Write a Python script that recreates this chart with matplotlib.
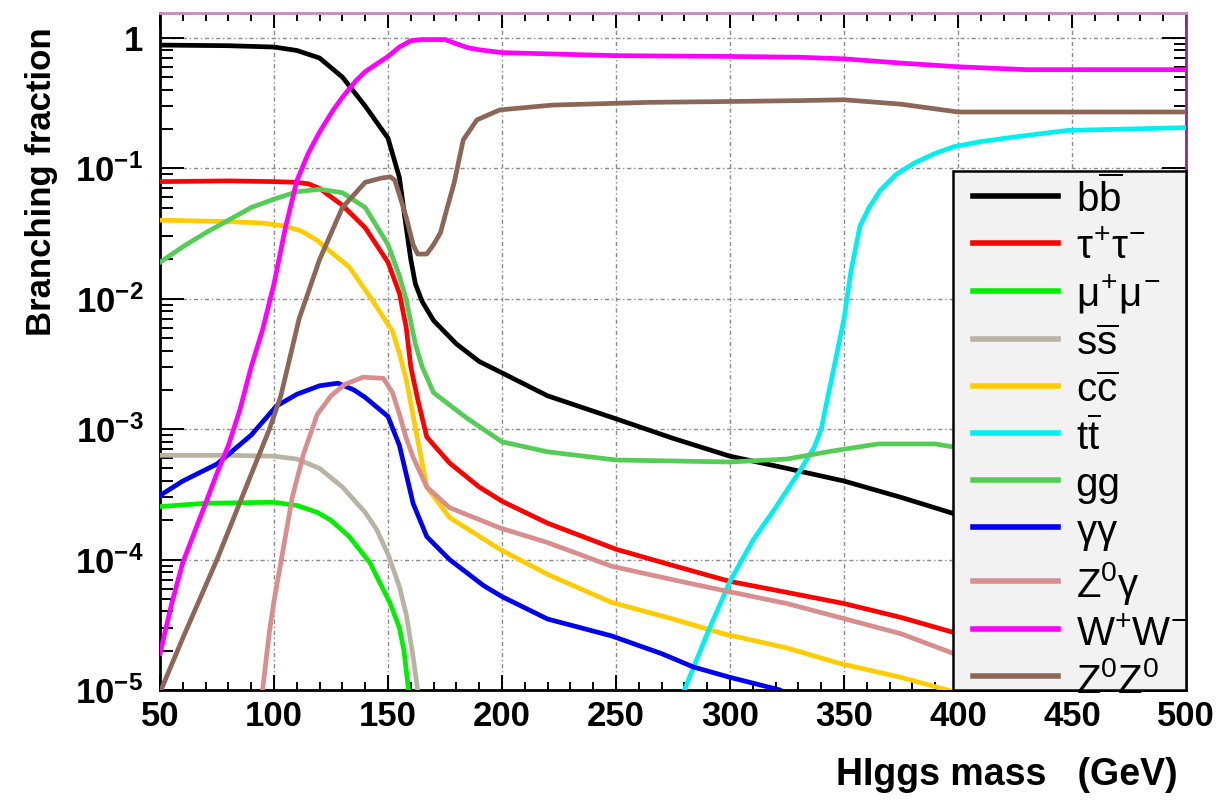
import matplotlib
matplotlib.use("Agg")
import matplotlib.pyplot as plt
from matplotlib.ticker import MultipleLocator, LogLocator, NullFormatter, FixedLocator, FixedFormatter
from matplotlib.patches import Rectangle

plt.rcParams['font.family'] = ['Liberation Sans', 'DejaVu Sans']
plt.rcParams['mathtext.fontset'] = 'custom'
plt.rcParams['mathtext.rm'] = 'Liberation Sans'
plt.rcParams['mathtext.it'] = 'Liberation Sans'
plt.rcParams['mathtext.bf'] = 'Liberation Sans:bold'

# ---- data ----
m_bb = [50, 80, 100, 110, 120, 130, 140, 150, 155, 158, 160, 162, 165, 170, 180, 190, 200, 220, 250, 275, 300, 325, 350, 375, 400]
v_bb = [0.88, 0.87, 0.85, 0.80, 0.70, 0.50, 0.30, 0.17, 0.085, 0.035, 0.02, 0.013, 0.0095, 0.0068, 0.0045, 0.0033, 0.0027, 0.0018, 0.0012, 0.00085, 0.00062, 0.0005, 0.0004, 0.0003, 0.00022]

m_tau = [50, 80, 100, 110, 115, 120, 130, 140, 150, 155, 158, 160, 163, 167, 177, 190, 200, 220, 250, 275, 300, 325, 350, 375, 400]
v_tau = [0.079, 0.08, 0.079, 0.078, 0.076, 0.07, 0.052, 0.035, 0.019, 0.011, 0.006, 0.003, 0.0017, 0.00087, 0.00055, 0.00036, 0.00028, 0.00019, 0.00012, 9e-5, 6.8e-5, 5.6e-5, 4.6e-5, 3.6e-5, 2.7e-5]

m_mu = [50, 70, 100, 110, 119, 125, 133, 142, 151, 155, 157, 159, 161]
v_mu = [2.55e-4, 2.7e-4, 2.75e-4, 2.6e-4, 2.3e-4, 2.0e-4, 1.5e-4, 9.5e-5, 4.6e-5, 3.0e-5, 2.0e-5, 1.0e-5, 5e-6]

m_ss = [50, 80, 100, 110, 120, 130, 140, 145, 150, 155, 158, 161, 163, 165]
v_ss = [6.3e-4, 6.3e-4, 6.2e-4, 5.9e-4, 5.0e-4, 3.6e-4, 2.3e-4, 1.7e-4, 1.1e-4, 6.2e-5, 3.8e-5, 1.8e-5, 1.0e-5, 5e-6]

m_cc = [50, 80, 95, 105, 112, 119, 126, 133, 143, 152, 155, 158, 163, 167, 177, 199, 220, 248, 275, 297, 325, 348, 375, 400]
v_cc = [0.040, 0.039, 0.038, 0.036, 0.033, 0.028, 0.022, 0.0175, 0.0098, 0.0056, 0.0038, 0.0024, 0.00083, 0.00036, 0.00021, 0.00012, 7.7e-5, 4.7e-5, 3.5e-5, 2.7e-5, 2.1e-5, 1.6e-5, 1.25e-5, 9.5e-6]

m_tt = [278, 280, 290, 300, 310, 320, 331, 337, 340, 343, 346, 350, 353, 357, 361, 366, 373, 381, 390, 398, 410, 425, 448, 475, 500]
v_tt = [5e-6, 1e-5, 2.7e-5, 6.8e-5, 1.4e-4, 2.5e-4, 4.9e-4, 7.3e-4, 1.0e-3, 1.8e-3, 3.2e-3, 7e-3, 0.016, 0.036, 0.05, 0.068, 0.09, 0.11, 0.13, 0.146, 0.16, 0.174, 0.195, 0.2, 0.205]

m_gg = [50, 60, 70, 80, 90, 100, 110, 120, 130, 140, 150, 155, 158, 162, 165, 170, 185, 200, 220, 250, 275, 300, 325, 345, 365, 390, 400]
v_gg = [0.019, 0.025, 0.032, 0.040, 0.05, 0.058, 0.066, 0.069, 0.065, 0.050, 0.026, 0.015, 0.0098, 0.0045, 0.003, 0.0019, 0.0012, 0.0008, 0.00067, 0.00058, 0.00057, 0.00056, 0.00059, 0.00068, 0.00077, 0.00077, 0.00072]

m_yy = [50, 60, 75, 90, 101, 110, 120, 128, 135, 140, 150, 155, 158, 161, 167, 177, 192, 200, 220, 248, 270, 284, 300, 322, 326]
v_yy = [3.1e-4, 4e-4, 5.4e-4, 9e-4, 1.5e-3, 1.85e-3, 2.15e-3, 2.25e-3, 2.0e-3, 1.75e-3, 1.25e-3, 7.5e-4, 4.5e-4, 2.7e-4, 1.5e-4, 1.0e-4, 6.3e-5, 5.2e-5, 3.5e-5, 2.6e-5, 1.9e-5, 1.5e-5, 1.25e-5, 1.0e-5, 9e-6]

m_zy = [94, 95, 97, 98, 100, 103, 108, 113, 119, 125, 131, 139, 148, 152, 155, 158, 161, 167, 177, 199, 220, 248, 275, 297, 325, 348, 375, 400]
v_zy = [5e-6, 1.0e-5, 2e-5, 2.8e-5, 4.8e-5, 9.5e-5, 3.0e-4, 6.5e-4, 1.3e-3, 1.8e-3, 2.2e-3, 2.5e-3, 2.45e-3, 1.9e-3, 1.3e-3, 8.5e-4, 6.1e-4, 3.6e-4, 2.5e-4, 1.75e-4, 1.35e-4, 8.9e-5, 7e-5, 5.8e-5, 4.6e-5, 3.6e-5, 2.7e-5, 1.85e-5]

m_ww = [50, 55, 60, 70, 75, 80, 85, 90, 95, 100, 105, 110, 115, 120, 126, 130, 136, 140, 145, 150, 155, 160, 165, 175, 180, 185, 190, 200, 250, 300, 330, 350, 375, 400, 430, 500]
v_ww = [1.9e-5, 4.5e-5, 9.5e-5, 2.7e-4, 4.6e-4, 7.5e-4, 1.4e-3, 3e-3, 5.8e-3, 0.013, 0.035, 0.08, 0.13, 0.19, 0.28, 0.35, 0.47, 0.55, 0.63, 0.72, 0.85, 0.95, 0.97, 0.97, 0.90, 0.84, 0.81, 0.77, 0.73, 0.72, 0.71, 0.69, 0.64, 0.60, 0.57, 0.57]

m_zz = [50, 60, 75, 90, 98, 103, 111, 120, 130, 140, 147, 151, 153, 156, 158, 161, 163, 167, 170, 173, 176, 179, 183, 189, 199, 222, 264, 300, 330, 350, 375, 400, 450, 500]
v_zz = [9.6e-6, 2.5e-5, 1.0e-4, 4.5e-4, 1.0e-3, 1.8e-3, 7e-3, 0.02, 0.05, 0.078, 0.084, 0.086, 0.081, 0.055, 0.042, 0.026, 0.022, 0.022, 0.026, 0.032, 0.05, 0.077, 0.165, 0.235, 0.28, 0.305, 0.32, 0.325, 0.33, 0.335, 0.31, 0.27, 0.27, 0.27]

series = [
    (m_bb, v_bb, '#000000', r'$\mathrm{b\overline{b}}$'),
    (m_tau, v_tau, '#ff0000', r'$\tau^{+}\tau^{-}$'),
    (m_mu, v_mu, '#00ee00', r'$\mu^{+}\mu^{-}$'),
    (m_ss, v_ss, '#b8b3a2', r'$\mathrm{s\overline{s}}$'),
    (m_cc, v_cc, '#ffcc00', r'$\mathrm{c\overline{c}}$'),
    (m_tt, v_tt, '#00f0f0', r'$\mathrm{t\overline{t}}$'),
    (m_gg, v_gg, '#55cc55', 'gg'),
    (m_yy, v_yy, '#0000f0', r'$\gamma\gamma$'),
    (m_zy, v_zy, '#d98e8e', r'$\mathrm{Z}^{0}\gamma$'),
    (m_ww, v_ww, '#ff00ff', r'$\mathrm{W}^{+}\mathrm{W}^{-}$'),
    (m_zz, v_zz, '#8c6656', r'$\mathrm{Z}^{0}\mathrm{Z}^{0}$'),
]

fig = plt.figure(figsize=(12.17, 8.05), dpi=100)
ax = fig.add_axes([160/1217, 115/805, 1026/1217, 677/805])

handles = []
for m, v, c, lab in series:
    h, = ax.plot(m, v, color=c, lw=3.4, label=lab, solid_joinstyle='round', zorder=3)
    handles.append(h)

ax.set_yscale('log')
ax.set_xlim(50, 500)
ax.set_ylim(1e-5, 1.55)

ax.xaxis.set_major_locator(MultipleLocator(50))
ax.xaxis.set_minor_locator(MultipleLocator(10))
ax.yaxis.set_major_locator(FixedLocator([1e-5, 1e-4, 1e-3, 1e-2, 1e-1, 1]))
ax.yaxis.set_major_formatter(FixedFormatter([r'$\mathbf{10^{-5}}$', r'$\mathbf{10^{-4}}$', r'$\mathbf{10^{-3}}$',
                                             r'$\mathbf{10^{-2}}$', r'$\mathbf{10^{-1}}$', r'$\mathbf{1}$']))
ax.yaxis.set_minor_locator(LogLocator(base=10, subs=range(2, 10), numticks=20))
ax.yaxis.set_minor_formatter(NullFormatter())

ax.tick_params(axis='both', which='both', direction='in', top=True, right=True, width=1.4, color='black')
ax.tick_params(axis='x', which='major', length=11, pad=7, labelsize=25)
ax.tick_params(axis='x', which='minor', length=6)
ax.tick_params(axis='y', which='major', length=17, pad=12, labelsize=25)
ax.tick_params(axis='y', which='minor', length=9)
for lab in ax.get_xticklabels():
    lab.set_fontweight('bold')

ax.grid(True, which='major', color='#8a8a8a', lw=1.0, linestyle=(0, (3, 2, 1, 2)), zorder=1)
for s in ['left', 'bottom']:
    ax.spines[s].set_linewidth(2.0)
ax.spines['top'].set_linewidth(2.0)
ax.spines['top'].set_color('#c48ac4')
ax.spines['right'].set_linewidth(2.0)
ax.spines['right'].set_color('#8c2a8c')

# legend box
rect = Rectangle(((953-160)/1026, 0), (1186-953)/1026, (690-171)/677, transform=ax.transAxes,
                 facecolor='#f2f2f2', edgecolor='black', lw=1.8, zorder=5, clip_on=False)
ax.add_patch(rect)
leg = ax.legend(handles=handles, loc='upper left', bbox_to_anchor=((973-160)/1026, (690-176)/677),
                frameon=False, fontsize=29, handlelength=2.1, handletextpad=0.45,
                handleheight=1.05, labelspacing=0.16, borderpad=0, borderaxespad=0)
leg.set_zorder(6)
for ln in leg.get_lines():
    ln.set_linewidth(4)

fig.text(42/1217, 1 - 182/805, 'Branching fraction', rotation=90, ha='center', va='center',
         fontsize=25, fontweight='bold')
fig.text(1178/1217, 1 - 775/805, 'HIggs mass   (GeV)', ha='right', va='center',
         fontsize=27, fontweight='bold')

fig.savefig('out.png', dpi=100)
